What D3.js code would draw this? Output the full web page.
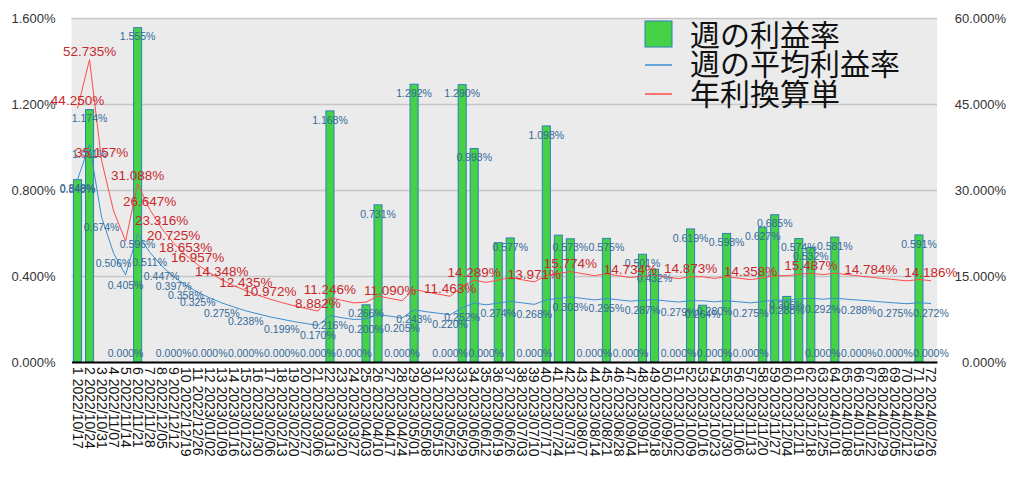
<!DOCTYPE html>
<html>
<head>
<meta charset="UTF-8">
<title>週の利益率</title>
<script src="https://cdn.jsdelivr.net/npm/d3@7"></script>
<style>
    body { margin: 0; background: #fff; }
    svg text { font-family: "Liberation Sans", Arial, sans-serif; }
</style>
</head>
<body>
<svg id="chart" width="1024" height="481"></svg>
<script>
    // week start dates (category axis)
    var dates = ["2022/10/17","2022/10/24","2022/10/31","2022/11/07","2022/11/14","2022/11/21","2022/11/28","2022/12/05",
        "2022/12/12","2022/12/19","2022/12/26","2023/01/02","2023/01/09","2023/01/16","2023/01/23","2023/01/30",
        "2023/02/06","2023/02/13","2023/02/20","2023/02/27","2023/03/06","2023/03/13","2023/03/20","2023/03/27",
        "2023/04/03","2023/04/10","2023/04/17","2023/04/24","2023/05/01","2023/05/08","2023/05/15","2023/05/22",
        "2023/05/29","2023/06/05","2023/06/12","2023/06/19","2023/06/26","2023/07/03","2023/07/10","2023/07/17",
        "2023/07/24","2023/07/31","2023/08/07","2023/08/14","2023/08/21","2023/08/28","2023/09/04","2023/09/11",
        "2023/09/18","2023/09/25","2023/10/02","2023/10/09","2023/10/16","2023/10/23","2023/10/30","2023/11/06",
        "2023/11/13","2023/11/20","2023/11/27","2023/12/04","2023/12/11","2023/12/18","2023/12/25","2024/01/01",
        "2024/01/08","2024/01/15","2024/01/22","2024/01/29","2024/02/05","2024/02/12","2024/02/19","2024/02/26"];

    // 週の利益率 (%)
    var weekly = [0.848,1.174,0,0,0,1.555,0,0,0,0,0,0,0,0,0,0,0,0,0,0,0,1.168,0,0,
        0.266,0.731,0,0,1.292,0,0,0,1.290,0.993,0,0.555,0.577,0,0,1.098,0.590,0.573,0,0,
        0.575,0,0,0.501,0.432,0,0,0.619,0.264,0,0.598,0,0,0.627,0.685,0.305,0.574,0.532,0,0.581,
        0,0,0,0,0,0,0.591,0];

    // 週の平均利益率 (%)
    var average = [0.848,1.011,0.674,0.506,0.405,0.596,0.511,0.447,0.397,0.358,0.325,0.298,0.275,0.256,0.238,0.224,
        0.210,0.199,0.188,0.179,0.170,0.216,0.206,0.198,0.200,0.221,0.213,0.205,0.243,0.234,0.227,0.220,
        0.252,0.274,0.266,0.274,0.282,0.275,0.268,0.289,0.296,0.303,0.296,0.289,0.295,0.289,0.283,0.287,
        0.290,0.284,0.279,0.285,0.285,0.280,0.285,0.280,0.275,0.281,0.288,0.288,0.293,0.297,0.292,0.297,
        0.292,0.288,0.284,0.279,0.275,0.271,0.276,0.272];

    // 年利換算単 (%)
    var annual = [44.250,52.735,35.157,26.358,21.087,31.088,26.647,23.316,20.725,18.653,16.957,15.543,14.348,13.323,12.435,11.657,
        10.972,10.362,9.817,9.326,8.882,11.246,10.757,10.309,10.452,11.516,11.090,10.693,12.647,12.226,11.831,11.463,
        13.153,14.289,13.881,14.299,14.726,14.338,13.971,15.052,15.435,15.774,15.412,15.062,15.394,15.059,14.734,14.976,
        15.130,14.827,14.536,14.873,14.857,14.582,14.884,14.618,14.358,14.677,15.034,15.048,15.292,15.487,15.247,15.482,
        15.244,15.013,14.784,14.572,14.360,14.155,14.390,14.186];

    var leftTicks = [0, 0.4, 0.8, 1.2, 1.6];
    var rightTicks = [0, 15, 30, 45, 60];
    var legendNames = ["週の利益率", "週の平均利益率", "年利換算単"];

    // which data labels are visible (week numbers)
    var avgShown = [1,2,3,4,5,6,7,8,9,10,11,13,15,18,21,22,25,28,29,32,33,36,39,42,45,48,51,54,57,60,63,66,69,72];
    var annualShown = [1,2,3,6,7,8,9,10,11,13,15,17,21,22,27,32,34,39,42,47,52,57,62,67,72];
    var zeroShown = [5,9,12,15,18,21,24,28,32,35,39,44,47,51,54,57,63,66,69,72];
    var barHidden = [36, 41];

    var green = "#46d246", barStroke = "#2f7fb8", blueLine = "#3b8dd0", redLine = "#ff4b4b";
    var blueText = "#336a99", redText = "#c8282b";

    var svg = d3.select("#chart");
    var plotL = 71.5, plotR = 937, plotT = 18, plotB = 362;

    var x = d3.scaleBand().domain(dates).range([plotL, plotR]).paddingInner(0.33).paddingOuter(0.165);
    var y = d3.scaleLinear().domain([0, 1.6]).range([plotB, plotT]);
    var y2 = d3.scaleLinear().domain([0, 60]).range([plotB, plotT]);
    var cx = function (i) { return x(dates[i]) + x.bandwidth() / 2; };

    svg.append("rect")
            .attr("x", plotL).attr("y", plotT)
            .attr("width", plotR - plotL).attr("height", plotB - plotT)
            .style("fill", "#ebebeb");

    // grid
    var grid = svg.append("g").attr("transform", "translate(" + plotL + ",0)")
            .call(d3.axisLeft(y).tickValues(leftTicks.slice(1)).tickSize(-(plotR - plotL)).tickFormat(""));
    grid.select(".domain").remove();
    grid.selectAll("line").style("stroke", "#c6c6c6").style("stroke-width", 1.5);

    // left axis
    var ax = svg.append("g").attr("transform", "translate(" + plotL + ",0)")
            .call(d3.axisLeft(y).tickValues(leftTicks).tickSize(0).tickPadding(16)
                    .tickFormat(function (d) { return d.toFixed(3) + "%"; }));
    ax.select(".domain").remove();
    ax.selectAll("text").style("font-size", "13px").style("fill", "#333");

    // right axis
    var ax2 = svg.append("g").attr("transform", "translate(" + plotR + ",0)")
            .call(d3.axisRight(y2).tickValues(rightTicks).tickSize(0)
                    .tickFormat(function (d) { return d.toFixed(3) + "%"; }));
    ax2.select(".domain").remove();
    ax2.selectAll("text").attr("x", 69).style("text-anchor", "end").style("font-size", "13px").style("fill", "#333");

    // bars
    svg.append("g").selectAll("rect").data(weekly).enter().append("rect")
            .attr("x", function (d, i) { return x(dates[i]); })
            .attr("y", function (d) { return y(d); })
            .attr("width", x.bandwidth())
            .attr("height", function (d) { return plotB - y(d); })
            .style("fill", green).style("stroke", barStroke).style("stroke-width", 1);

    // x axis
    var xa = svg.append("g").attr("transform", "translate(0," + plotB + ")")
            .call(d3.axisBottom(x).tickSize(0)
                    .tickFormat(function (d, i) { return (i + 1) + " " + d; }));
    xa.select(".domain").style("stroke", "#000").style("stroke-width", 2);
    xa.selectAll("text")
            .attr("transform", "rotate(90)")
            .attr("x", 5).attr("y", 0).attr("dy", "0.35em")
            .style("text-anchor", "start").style("font-size", "14px").style("fill", "#111");

    // lines
    svg.append("path").datum(average)
            .attr("d", d3.line().x(function (d, i) { return cx(i); }).y(function (d) { return y(d); }))
            .style("fill", "none").style("stroke", blueLine).style("stroke-width", 1);
    svg.append("path").datum(annual)
            .attr("d", d3.line().x(function (d, i) { return cx(i); }).y(function (d) { return y2(d); }))
            .style("fill", "none").style("stroke", redLine).style("stroke-width", 1);

    var labels = svg.append("g").style("text-anchor", "middle");

    // bar value labels
    weekly.forEach(function (v, i) {
        var wk = i + 1;
        var show = v > 0 ? barHidden.indexOf(wk) < 0 : zeroShown.indexOf(wk) >= 0;
        if (!show) return;
        labels.append("text")
                .attr("x", cx(i))
                .attr("y", v > 0 ? y(v) + 9 : plotB - 9)
                .attr("dy", "0.35em")
                .style("font-size", "10.5px").style("fill", blueText)
                .text(v.toFixed(3) + "%");
    });

    avgShown.forEach(function (wk) {
        var i = wk - 1;
        labels.append("text")
                .attr("x", cx(i)).attr("y", y(average[i]) + 10).attr("dy", "0.35em")
                .style("font-size", "10.5px").style("fill", blueText)
                .text(average[i].toFixed(3) + "%");
    });

    annualShown.forEach(function (wk) {
        var i = wk - 1;
        labels.append("text")
                .attr("x", cx(i)).attr("y", y2(annual[i]) - 8).attr("dy", "0.35em")
                .style("font-size", "13.5px").style("fill", redText)
                .text(annual[i].toFixed(3) + "%");
    });

    // legend
    var lg = svg.append("g").attr("transform", "translate(645,0)");
    lg.append("rect").attr("x", 0).attr("y", 21).attr("width", 27).attr("height", 26)
            .style("fill", green).style("stroke", barStroke).style("stroke-width", 1);
    lg.append("line").attr("x1", 0).attr("x2", 27).attr("y1", 65).attr("y2", 65)
            .style("stroke", blueLine).style("stroke-width", 1.5);
    lg.append("line").attr("x1", 0).attr("x2", 27).attr("y1", 94).attr("y2", 94)
            .style("stroke", redLine).style("stroke-width", 1.5);
    lg.selectAll("text.name").data(legendNames).enter().append("text")
            .attr("class", "name")
            .attr("x", 45)
            .attr("y", function (d, i) { return 35 + i * 29.5; })
            .attr("dy", "0.35em")
            .style("font-family", "'Noto Sans CJK JP', sans-serif")
            .style("font-size", "30px").style("fill", "#111")
            .text(function (d) { return d; });
</script>
</body>
</html>
